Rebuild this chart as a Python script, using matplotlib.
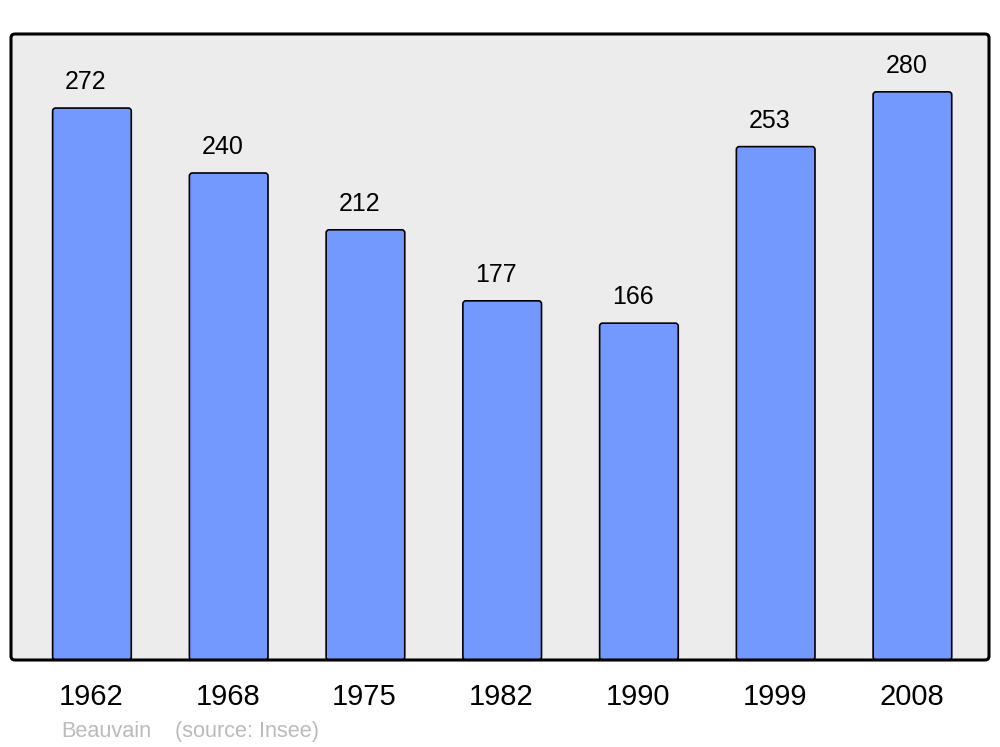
import matplotlib
matplotlib.use("Agg")
import matplotlib.pyplot as plt
from matplotlib.patches import FancyBboxPatch

years = ["1962", "1968", "1975", "1982", "1990", "1999", "2008"]
values = [272, 240, 212, 177, 166, 253, 280]
town = "Beauvain"
source = "(source: Insee)"

plt.rcParams['font.family'] = ['Liberation Sans', 'DejaVu Sans']

W, H = 1000, 747
fig = plt.figure(figsize=(W / 100, H / 100), dpi=100)
L, R, T, B = 11, 989, 34, 660
ax = fig.add_axes([L / W, (H - B) / H, (R - L) / W, (B - T) / H])
ax.set_xlim(-0.592, 6.56)
ax.set_ylim(0, 308.5)
ax.axis('off')

# frame
aw, ah = R - L, B - T
r = 4 / aw
face = FancyBboxPatch((0, 0), 1, 1, boxstyle=f"round,pad=0,rounding_size={r}",
                      transform=ax.transAxes, mutation_aspect=aw / ah,
                      facecolor='#ececec', edgecolor='none', zorder=0, clip_on=False)
edge = FancyBboxPatch((0, 0), 1, 1, boxstyle=f"round,pad=0,rounding_size={r}",
                      transform=ax.transAxes, mutation_aspect=aw / ah,
                      facecolor='none', edgecolor='black', linewidth=2.2, zorder=5, clip_on=False)
ax.add_patch(face)
ax.add_patch(edge)

x = list(range(len(years)))
width = 0.575
bars = ax.bar(x, values, width=width, color='none', edgecolor='none')

# rounded bars
xpp = (6.56 + 0.592) / aw
ypp = 308.5 / ah
for b in bars:
    rb = FancyBboxPatch((b.get_x(), b.get_y()), b.get_width(), b.get_height(),
                        boxstyle=f"round,pad=0,rounding_size={3 * xpp}",
                        mutation_aspect=ypp / xpp,
                        facecolor='#7399ff', edgecolor='black', linewidth=1.2, zorder=2)
    ax.add_patch(rb)

for xi, v in zip(x, values):
    ax.annotate(str(v), (xi, v), xytext=(-6, 19), textcoords='offset pixels',
                ha='center', va='baseline', fontsize=18, color='black')
    ax.annotate(years[xi], (xi, 0), xycoords=('data', 'axes fraction'),
                xytext=(-1, -45), textcoords='offset pixels',
                ha='center', va='baseline', fontsize=21, color='black')

fig.text(61 / W, (H - 737) / H, town, fontsize=15.6, color='#bbbbbb', va='baseline', ha='left')
fig.text(175 / W, (H - 737) / H, source, fontsize=15.6, color='#bbbbbb', va='baseline', ha='left')

fig.savefig("out.png", dpi=100)
